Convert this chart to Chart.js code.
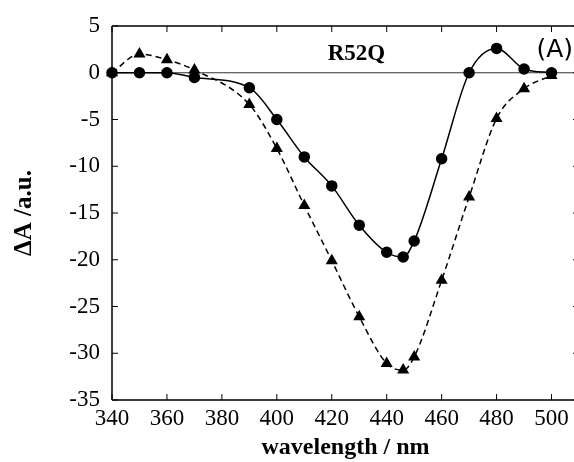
<!DOCTYPE html>
<html>
<head>
<meta charset="utf-8">
<script src="https://cdn.jsdelivr.net/npm/chart.js@4/dist/chart.umd.min.js"></script>
<style>
html,body{margin:0;padding:0;background:#fff;overflow:hidden;width:574px;height:462px;}
#wrap{position:absolute;left:0;top:0;width:586px;height:462px;}
</style>
</head>
<body>
<div id="wrap"><canvas id="c" width="586" height="462"></canvas></div>
<script>
// wavelengths (nm)
const wavelengths = [340, 350, 360, 370, 390, 400, 410, 420, 430, 440, 446, 450, 460, 470, 480, 490, 500];
// R52Q circles (solid line)
const circleValues = [0, 0, 0, -0.5, -1.6, -5.0, -9.0, -12.1, -16.3, -19.2, -19.7, -18.0, -9.2, 0, 2.6, 0.4, 0];
// triangles (dashed line)
const triangleValues = [0, 2.0, 1.4, 0.3, -3.4, -8.1, -14.2, -20.1, -26.1, -31.1, -31.8, -30.4, -22.2, -13.3, -4.9, -1.7, -0.3];
const xTicks = [340, 360, 380, 400, 420, 440, 460, 480, 500];
const yTicks = [-35, -30, -25, -20, -15, -10, -5, 0, 5];

const serif = "'Liberation Serif', 'DejaVu Serif', serif";

const toPts = (vals) => wavelengths.map((w, i) => ({x: w, y: vals[i]}));

const framePlugin = {
  id: 'frame',
  beforeDatasetsDraw(chart) {
    const {ctx, chartArea: a, scales} = chart;
    ctx.save();
    const y0 = scales.y.getPixelForValue(0);
    ctx.strokeStyle = '#333';
    ctx.lineWidth = 1;
    ctx.beginPath();
    ctx.moveTo(a.left, y0); ctx.lineTo(a.right, y0);
    ctx.stroke();
    ctx.restore();
  },
  afterDraw(chart) {
    const {ctx, chartArea: a, scales} = chart;
    ctx.save();
    ctx.strokeStyle = '#000';
    ctx.lineWidth = 1.5;
    ctx.beginPath();
    ctx.moveTo(a.left, a.top); ctx.lineTo(a.right, a.top);
    ctx.moveTo(a.left, a.bottom); ctx.lineTo(a.right, a.bottom);
    ctx.moveTo(a.left, a.top); ctx.lineTo(a.left, a.bottom);
    ctx.stroke();
    ctx.lineWidth = 1;
    ctx.beginPath();
    const tl = 6;
    xTicks.forEach(v => {
      const x = scales.x.getPixelForValue(v);
      ctx.moveTo(x, a.bottom); ctx.lineTo(x, a.bottom - tl);
      ctx.moveTo(x, a.top); ctx.lineTo(x, a.top + tl);
    });
    yTicks.forEach(v => {
      const y = scales.y.getPixelForValue(v);
      ctx.moveTo(a.left, y); ctx.lineTo(a.left + tl, y);
      ctx.moveTo(a.right, y); ctx.lineTo(a.right - tl, y);
    });
    ctx.stroke();
    ctx.fillStyle = '#000';
    ctx.textBaseline = 'middle';
    ctx.textAlign = 'center';
    ctx.font = "bold 23px " + serif;
    ctx.fillText('R52Q', scales.x.getPixelForValue(429), scales.y.getPixelForValue(2.0));
    ctx.textAlign = 'left';
    ctx.font = "25px 'DejaVu Sans', sans-serif";
    ctx.fillText('(A)', scales.x.getPixelForValue(494.5), scales.y.getPixelForValue(2.4));
    ctx.restore();
  }
};

new Chart(document.getElementById('c'), {
  type: 'line',
  data: {
    datasets: [
      {
        data: toPts(circleValues),
        borderColor: '#000',
        backgroundColor: '#000',
        borderWidth: 1.5,
        pointStyle: 'circle',
        pointRadius: 5,
        cubicInterpolationMode: 'monotone',
        fill: false
      },
      {
        data: toPts(triangleValues),
        borderColor: '#000',
        backgroundColor: '#000',
        borderWidth: 1.5,
        borderDash: [6, 4],
        pointStyle: 'triangle',
        pointRadius: 5.5,
        cubicInterpolationMode: 'monotone',
        fill: false
      }
    ]
  },
  options: {
    responsive: false,
    animation: false,
    clip: false,
    layout: {padding: {top: 26, right: 5, left: 0, bottom: 0}},
    plugins: {legend: {display: false}, tooltip: {enabled: false}},
    scales: {
      x: {
        type: 'linear',
        min: 340,
        max: 510,
        afterBuildTicks(scale) { scale.ticks = xTicks.map(v => ({value: v})); },
        afterFit(scale) { scale.height = 62; },
        grid: {display: false, drawTicks: false},
        border: {display: false},
        ticks: {color: '#000', font: {family: serif, size: 23}, padding: 5, maxRotation: 0, autoSkip: false},
        title: {display: true, text: 'wavelength / nm', color: '#000', font: {family: serif, size: 24, weight: 'bold'}, padding: {top: 0, bottom: 0}}
      },
      y: {
        min: -35,
        max: 5,
        afterBuildTicks(scale) { scale.ticks = yTicks.map(v => ({value: v})); },
        afterFit(scale) { scale.width = 112; },
        grid: {display: false, drawTicks: false},
        border: {display: false},
        ticks: {color: '#000', font: {family: serif, size: 23}, padding: 12, autoSkip: false},
        title: {display: true, text: 'ΔA /a.u.', color: '#000', font: {family: serif, size: 25, weight: 'bold'}, padding: {top: 10, bottom: 0}}
      }
    }
  },
  plugins: [framePlugin]
});
</script>
</body>
</html>
